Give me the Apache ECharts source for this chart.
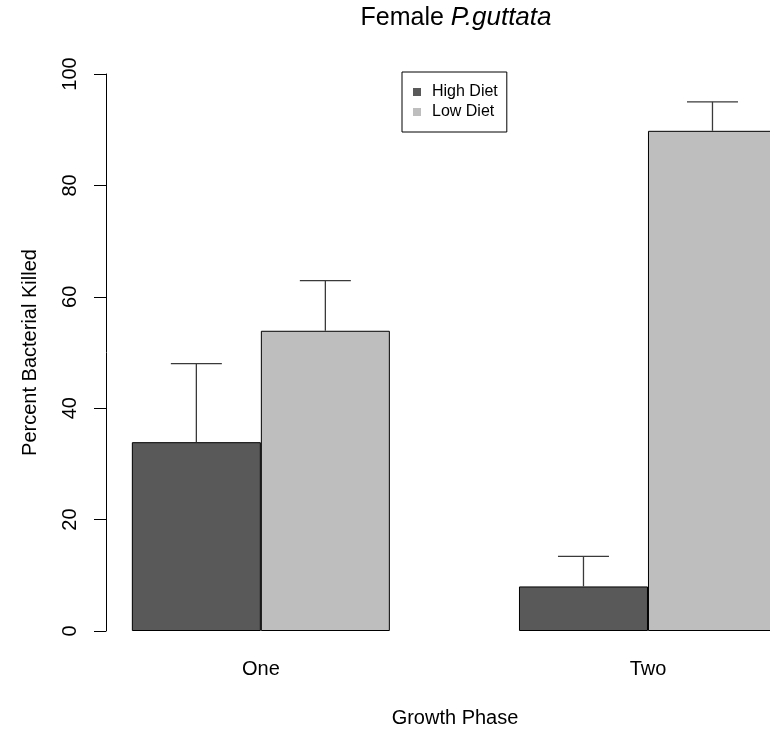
<!DOCTYPE html>
<html>
<head>
<meta charset="utf-8">
<title>Female P.guttata</title>
<script src="https://cdn.jsdelivr.net/npm/echarts@6/dist/echarts.min.js"></script>
<style>
  html, body { margin: 0; padding: 0; background: #fff; }
  #chart { width: 770px; height: 734px; }
</style>
</head>
<body>
<div id="chart"></div>
<script>
// Growth phases on the x axis
const categories = ['One', 'Two'];
// Mean percent of bacteria killed, by diet
const highDiet = [33.9, 8.0];
const lowDiet = [53.9, 89.8];
// Upper error-bar lengths (one standard error)
const highDietErr = [14.1, 5.4];
const lowDietErr = [9.0, 5.2];
// Y axis range and step
const yMin = 0, yMax = 100, yStep = 20;

const FONT = "'Liberation Sans', Arial, Helvetica, sans-serif";
const BAR_W = 129;       // px width of one bar
const CAP_HALF = 25.5;   // px half width of an error-bar cap

const chart = echarts.init(document.getElementById('chart'), null, { renderer: 'canvas' });

// bar rows on the numeric x axis: [group index, value]
function barRows(values) {
  return values.map((v, i) => [i, v]);
}
// error bar rows: [group index, mean, mean + error, side]
function errorRows(means, errs, side) {
  return means.map((m, i) => [i, m, m + errs[i], side]);
}

function renderError(params, api) {
  const idx = api.value(0);
  const side = api.value(3);
  const base = api.coord([idx, api.value(1)]);
  const top = api.coord([idx, api.value(2)]);
  const x = base[0] + side * BAR_W / 2;
  const style = { stroke: '#3a3a3a', lineWidth: 1.3 };
  return {
    type: 'group',
    children: [
      { type: 'line', shape: { x1: x, y1: base[1], x2: x, y2: top[1] }, style },
      { type: 'line', shape: { x1: x - CAP_HALF, y1: top[1], x2: x + CAP_HALF, y2: top[1] }, style }
    ]
  };
}

const option = {
  backgroundColor: '#ffffff',
  animation: false,
  textStyle: { fontFamily: FONT },
  title: [
    {
      text: '{n|Female }{i|P.guttata}',
      left: 456,
      top: 5,
      textAlign: 'center',
      padding: 0,
      textStyle: {
        fontWeight: 'normal',
        rich: {
          n: { fontFamily: FONT, fontSize: 25, fontWeight: 'normal', color: '#000', lineHeight: 26 },
          i: { fontFamily: FONT, fontSize: 26, fontWeight: 'normal', fontStyle: 'italic', color: '#000', lineHeight: 26 }
        }
      }
    },
    {
      text: 'Growth Phase',
      left: 455,
      top: 708,
      textAlign: 'center',
      padding: 0,
      textStyle: { fontFamily: FONT, fontSize: 20, fontWeight: 'normal', color: '#000', lineHeight: 20 }
    }
  ],
  legend: {
    orient: 'vertical',
    left: 402,
    top: 72,
    padding: [12, 9, 12, 11],
    itemGap: 4,
    itemWidth: 8,
    itemHeight: 8,
    icon: 'rect',
    borderColor: '#000',
    borderWidth: 1,
    itemStyle: { borderWidth: 0 },
    textStyle: { fontFamily: FONT, fontSize: 16, color: '#000', padding: [0, 0, 0, 6] },
    data: ['High Diet', 'Low Diet']
  },
  grid: { left: 106, top: 74, width: 664, height: 557 },
  xAxis: {
    type: 'value',
    min: -0.4,
    max: 1.3152,
    axisLine: { show: false },
    axisTick: { show: false },
    splitLine: { show: false },
    axisLabel: {
      customValues: [0, 1],
      formatter: (v) => categories[Math.round(v)] || '',
      fontFamily: FONT, fontSize: 20, color: '#000', margin: 28
    }
  },
  yAxis: {
    type: 'value',
    min: yMin,
    max: yMax,
    interval: yStep,
    name: 'Percent Bacterial Killed',
    nameLocation: 'middle',
    nameGap: 66,
    nameRotate: 90,
    nameTextStyle: { fontFamily: FONT, fontSize: 20, color: '#000' },
    axisLine: { show: true, onZero: false, lineStyle: { color: '#000', width: 1 } },
    axisTick: { show: true, length: 12, lineStyle: { color: '#000', width: 1 } },
    splitLine: { show: false },
    axisLabel: { fontFamily: FONT, fontSize: 20, color: '#000', rotate: 90, margin: 26 }
  },
  series: [
    {
      name: 'High Diet',
      type: 'bar',
      data: barRows(highDiet),
      barWidth: BAR_W,
      barGap: '0%',
      itemStyle: { color: '#595959', borderColor: '#000', borderWidth: 1 }
    },
    {
      name: 'Low Diet',
      type: 'bar',
      data: barRows(lowDiet),
      barWidth: BAR_W,
      barGap: '0%',
      itemStyle: { color: '#bebebe', borderColor: '#000', borderWidth: 1 }
    },
    {
      name: 'High Diet SE',
      type: 'custom',
      renderItem: renderError,
      encode: { x: 0, y: [1, 2] },
      data: errorRows(highDiet, highDietErr, -1),
      z: 3
    },
    {
      name: 'Low Diet SE',
      type: 'custom',
      renderItem: renderError,
      encode: { x: 0, y: [1, 2] },
      data: errorRows(lowDiet, lowDietErr, 1),
      z: 3
    }
  ]
};

chart.setOption(option);
</script>
</body>
</html>
